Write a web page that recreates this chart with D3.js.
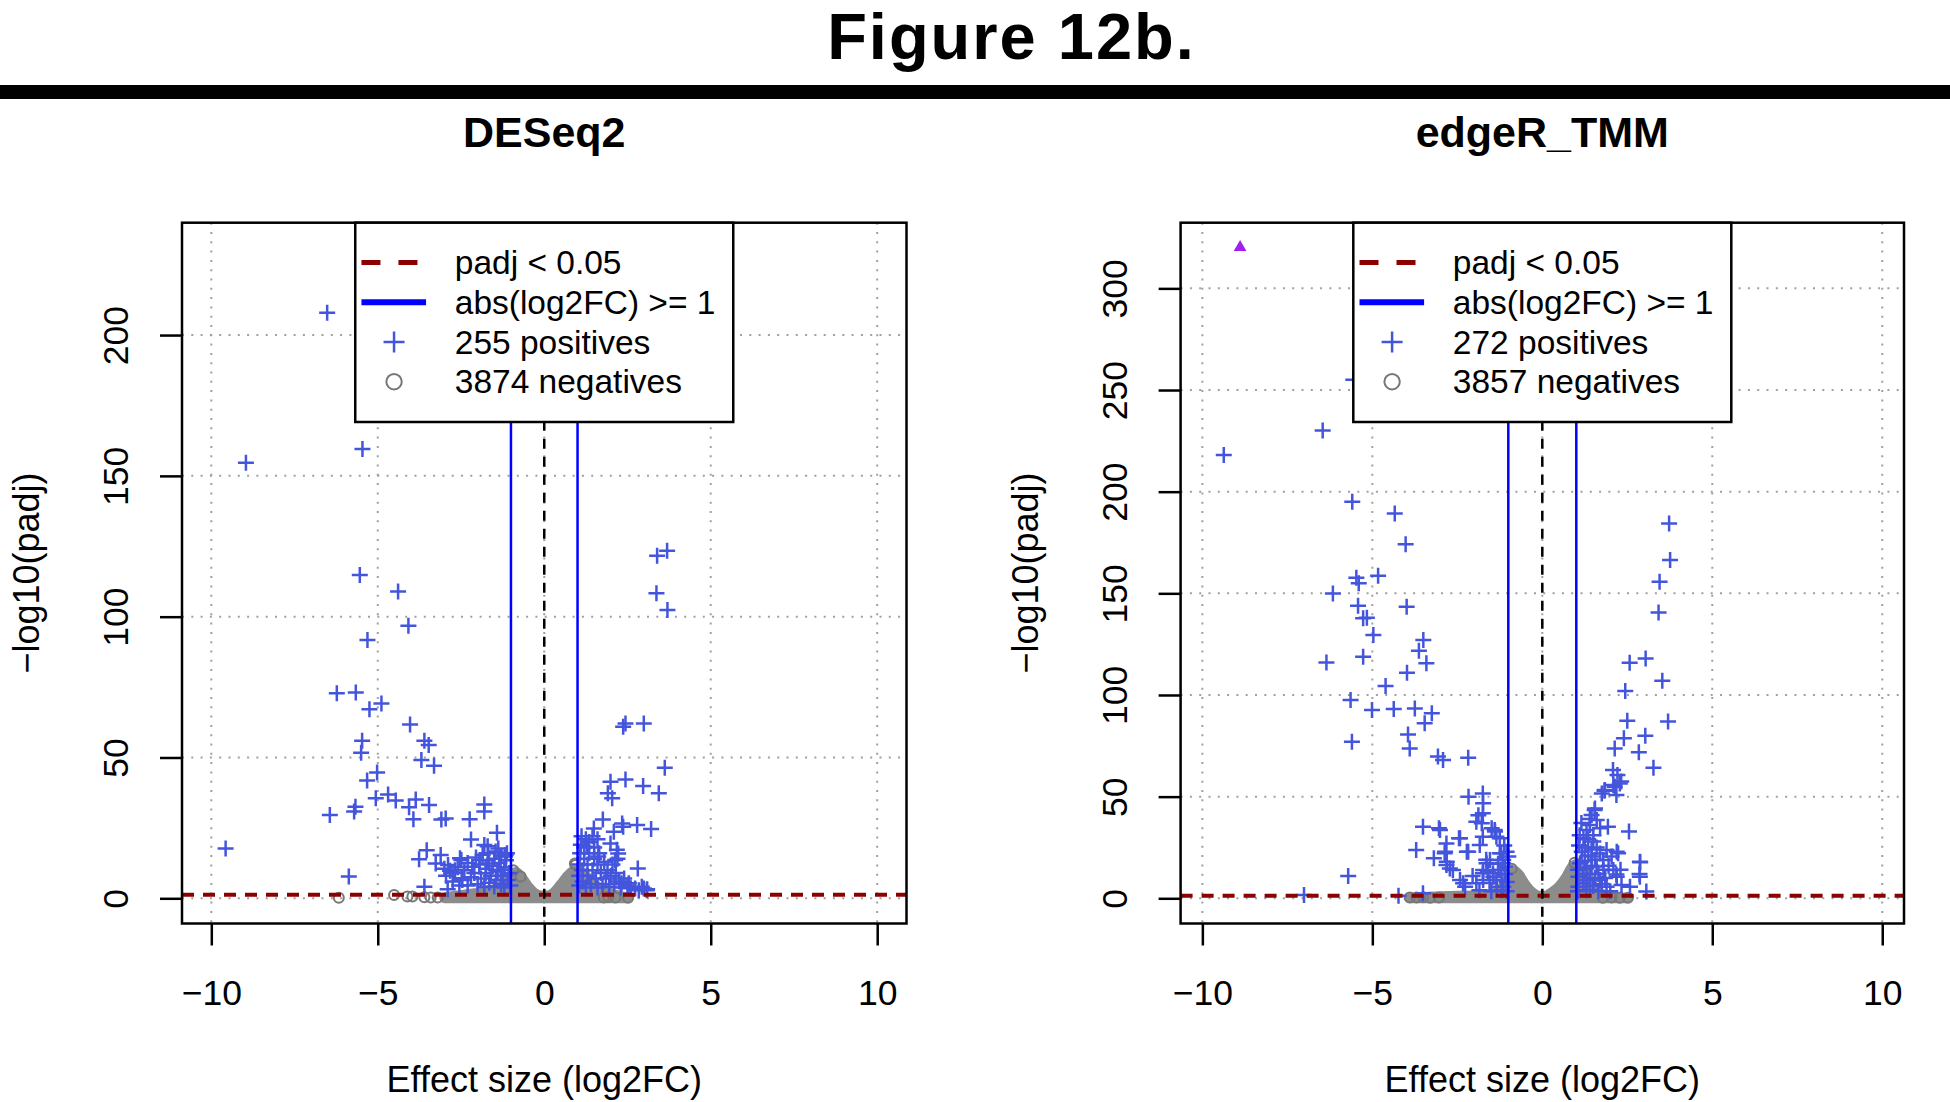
<!DOCTYPE html>
<html>
<head>
<meta charset="utf-8">
<script src="https://cdn.jsdelivr.net/npm/d3@7"></script>
<style>
  body { margin: 0; background: #fff; }
  svg { display: block; }
</style>
</head>
<body>
<svg id="chart" width="1950" height="1102"></svg>
<script>
// ---------------- DATA ----------------
const figureTitle = "Figure 12b.";
const panelTitles = ["DESeq2", "edgeR_TMM"];
const xAxisLabel = "Effect size (log2FC)";
const yAxisLabel = "\u2212log10(padj)";
const xTicks = [-10, -5, 0, 5, 10];
const yTicksDESeq2 = [0, 50, 100, 150, 200];
const yTicksEdgeR = [0, 50, 100, 150, 200, 250, 300];
const padjCutoff = 0.05;
const log2fcCutoff = 1;
const legendDESeq2 = ["padj < 0.05", "abs(log2FC) >= 1", "255 positives", "3874 negatives"];
const legendEdgeR = ["padj < 0.05", "abs(log2FC) >= 1", "272 positives", "3857 negatives"];

// DESeq2: significant genes (log2FC, -log10 padj)
const deseq2Positives = [
  [-6.52,207.9],[-8.96,154.7],[-5.46,159.5],[3.39,121.6],[3.69,123.4],
  [-5.54,114.8],[-4.39,108.9],[-4.08,96.8],[-5.31,91.7],[3.37,108.3],[3.70,102.4],
  [-6.23,72.8],[-5.66,73.1],[-5.25,67.1],[-4.89,69.2],[-4.03,61.7],[-3.60,55.9],[-3.47,54.4],
  [-5.47,55.9],[-5.50,51.7],[-3.69,49.1],[-3.31,47.1],
  [2.44,62.1],[2.37,60.9],[2.99,62.1],[3.62,46.4],
  [-5.02,44.7],[-5.32,41.8],
  [2.44,42.2],[1.99,41.4],[2.97,39.9],[3.44,37.3],[1.91,37.3],[2.04,35.5],
  [-5.06,35.5],[-4.69,36.9],[-4.46,34.7],[-4.06,32.3],[-3.86,35.1],[-3.46,33.1],[-3.93,28.1],
  [-5.67,32.5],[-5.71,30.8],[-6.44,29.6],[-3.09,28.0],[-2.96,28.3],[-2.24,28.1],[-1.80,33.3],[-1.80,30.8],
  [1.76,28.0],[2.34,26.6],[2.37,25.4],[2.79,26.0],[3.21,24.6],[1.49,24.8],[2.09,23.6],
  [-9.57,17.7],[-1.42,23.3],[-2.20,20.9],[-1.80,18.9],[1.99,19.5],[2.22,15.9],
  [-3.53,17.1],[-3.76,13.9],[-3.11,15.4],[-3.26,12.4],[-2.89,11.8],[-2.83,9.8],[-2.49,13.6],
  [-2.16,11.2],[-1.94,13.6],[-1.66,12.4],[-1.46,16.6],[-1.16,15.4],[-1.31,10.1],[-2.46,6.5],
  [-1.76,8.9],[-5.87,7.7],[-3.60,4.1],
  [2.81,10.6],[2.54,5.3],[2.99,3.5],[2.84,2.9],[3.09,3.2],
  [-2.53,14.2],[-1.68,16.0],[-1.38,17.7],[-1.18,14.8],[-2.48,7.1],[-2.68,10.0],
  [1.28,18.3],[1.62,14.8],[2.18,17.2],[2.13,13.6],[2.32,5.3],[2.53,4.1],[2.73,3.5],[2.93,4.1],[3.08,2.9],
  [-3.0,10.5],[-2.95,8.0],[-2.7,9.0],[-2.6,11.0],[-2.4,10.0],[-2.3,12.5],[-2.75,6.0],[-2.55,4.5],[-2.9,3.2],
  [-2.05,14.5],[-1.95,12.0],[-1.85,15.5],[-1.75,10.5],[-1.7,13.5],[-1.6,8.0],[-1.55,11.5],[-1.5,14.0],
  [-1.45,6.5],[-1.4,9.5],[-1.35,12.5],[-1.3,5.0],[-1.25,8.0],[-1.2,11.0],[-1.15,13.5],[-1.1,6.5],
  [-1.05,9.0],[-1.02,4.5],[-1.9,7.0],[-2.0,5.0],[-1.8,4.0],[-1.65,5.5],[-2.1,9.0],[-1.12,16.0],
  [-1.3,15.0],[-1.5,4.2],[-1.2,3.8],[-2.2,7.5],[-2.3,4.5],[-1.7,18.5],
  [1.05,4.5],[1.05,8.0],[1.05,12.0],[1.08,16.0],[1.1,19.0],[1.15,6.0],[1.15,10.0],[1.2,14.0],[1.2,18.0],
  [1.25,3.8],[1.3,8.0],[1.3,12.0],[1.35,16.0],[1.35,20.0],[1.4,5.0],[1.45,10.0],[1.5,14.0],[1.5,18.0],
  [1.55,7.0],[1.6,3.8],[1.6,12.0],[1.65,16.0],[1.7,9.0],[1.75,5.0],[1.8,13.0],[1.85,7.0],[1.9,10.0],
  [1.95,4.0],[2.0,8.0],[2.05,12.0],[2.1,5.0],[2.15,9.0],[2.2,14.0],[2.25,6.0],[2.3,3.8],[2.4,7.0],
  [2.5,4.5],[2.6,3.6],[1.12,22.0],[1.25,21.0],[1.45,22.0],[1.6,21.0]
];
// DESeq2: non-significant genes drawn individually (outliers of the dense cloud)
const deseq2Negatives = [
  [-6.17,0.2],[-4.51,1.2],[-4.11,0.6],[-3.96,0.6],[-3.6,0.4],[-3.41,0.3],[-3.2,0.3],
  [1.79,0.3],[1.92,0.5],[2.14,0.3],[2.52,0.2],[-0.71,7.7],[0.94,11.8],[-0.93,10.0],[0.92,12.4]
];
// DESeq2: upper envelope of the dense non-significant cloud (log2FC, -log10 padj)
const deseq2Cloud = [
  [-3.0,0.3],[-2.6,1.0],[-2.2,1.6],[-1.8,2.3],[-1.5,3.3],[-1.2,5.5],[-1.0,8.3],[-0.85,9.3],
  [-0.7,7.8],[-0.5,4.5],[-0.3,2.0],[-0.1,1.0],[0.1,1.0],[0.3,2.2],[0.5,5.0],[0.7,8.0],
  [0.9,9.8],[1.1,9.6],[1.4,6.0],[1.7,3.5],[2.0,1.8],[2.3,0.8],[2.5,0.3]
];

// edgeR_TMM
const edgerPositives = [
  [-5.56,255.0],
  [-6.46,230.1],[-9.37,218.0],[-5.59,195.1],[-4.34,189.3],[-4.02,174.1],[-4.83,158.7],[-5.47,157.7],
  [-5.40,154.9],[-6.16,149.9],[-3.99,143.4],[-5.42,143.9],[-5.27,137.7],[-5.16,138.0],[-4.97,129.5],
  [-3.50,127.0],[-3.63,121.8],[-3.41,115.6],[-5.27,118.8],[-6.35,116.0],[-3.98,110.9],[-4.61,104.4],
  [-5.64,97.5],[-5.01,92.6],[-4.37,93.1],[-3.75,93.4],[-3.25,91.0],[-3.46,86.1],[-3.95,80.6],
  [-3.90,73.7],[-5.60,77.0],[-3.07,69.7],[-2.92,68.0],[-2.18,69.1],
  [3.73,184.4],[3.76,166.4],[3.45,155.7],[3.42,140.6],[3.04,118.0],[2.57,115.9],[3.53,107.0],
  [2.44,101.9],[2.50,87.3],[3.70,86.9],[3.03,80.0],[2.40,78.7],[2.13,73.7],[2.84,71.8],[3.27,64.2],
  [2.08,63.1],[2.21,60.6],[2.32,57.4],[2.13,54.9],[1.83,52.9],[2.18,50.8],[1.75,51.6],[2.55,32.8],
  [2.88,17.7],[2.86,11.9],[3.06,3.3],
  [-5.71,11.0],[-7.01,1.6],[-4.23,1.3],[-3.51,2.5],
  [-2.17,49.9],[-1.75,51.6],[-1.75,41.8],[-1.94,37.7],[-3.51,35.2],[-3.04,34.4],[-2.45,29.5],
  [-3.71,23.8],[-2.82,27.0],[-2.87,22.1],[-3.19,19.7],[-2.82,16.4],[-2.63,13.9],[-2.22,22.9],
  [-1.40,33.6],[-1.35,30.3],[-1.84,26.2],[-1.75,30.3],[-1.21,22.1],[-1.16,17.2],[-1.65,18.9],
  [-1.75,12.3],[-1.45,12.3],[-1.21,13.9],[-2.33,7.4],[-1.94,7.4],
  [-1.74,46.7],[-1.88,40.9],[-1.78,36.9],[-1.49,34.4],[-1.39,32.8],[-1.25,29.5],[-2.42,29.5],
  [-2.18,22.9],[-2.86,22.9],[-2.81,18.0],[-2.72,14.7],[-3.01,33.6],[-1.64,17.2],[-1.74,13.9],
  [-1.54,18.8],[-1.25,22.1],[-1.15,18.8],[-1.10,15.6],[-1.29,13.9],[-2.42,9.0],[-2.27,5.7],
  [-1.74,9.0],[-1.44,10.6],[-1.20,9.0],[-1.15,5.7],[-1.34,5.7],[-1.05,22.9],[-1.00,20.5],
  [-1.05,3.5],[-1.05,8.0],[-1.1,12.0],[-1.12,26.0],[-1.2,4.0],[-1.3,17.0],[-1.35,9.0],[-1.5,3.5],
  [-1.55,7.5],[-1.6,13.0],[-1.85,4.0],[-2.05,11.0],
  [1.84,53.3],[2.09,55.7],[2.28,56.5],[1.55,44.2],[1.45,41.0],[1.60,38.5],[1.40,36.0],[1.30,33.6],
  [1.70,34.4],[1.21,29.5],[1.50,27.9],[1.89,23.8],[2.19,22.9],[2.04,20.5],[1.79,18.8],[1.45,20.5],
  [1.16,22.9],[1.11,17.2],[1.30,14.7],[1.60,15.6],[2.09,13.9],[2.19,10.6],[2.87,18.0],[2.87,10.6],
  [2.33,6.5],[2.58,5.7],[1.70,9.0],[1.21,7.4],[1.40,4.1],[1.89,5.7],[1.06,10.6],[1.06,5.7],
  [1.54,43.4],[1.93,35.2],[2.23,22.1],[2.18,11.7],
  [1.05,3.5],[1.05,14.0],[1.08,26.0],[1.1,31.0],[1.15,37.0],[1.2,12.0],[1.25,18.5],[1.25,25.0],
  [1.3,4.0],[1.3,9.0],[1.35,21.0],[1.35,29.0],[1.4,12.0],[1.4,39.0],[1.45,16.0],[1.45,24.0],
  [1.5,6.0],[1.5,31.0],[1.55,10.0],[1.55,19.0],[1.6,25.0],[1.65,3.5],[1.65,12.0],[1.7,22.0],
  [1.75,7.0],[1.8,14.0],[1.85,10.0],[1.95,16.0],[2.0,3.5],[2.3,14.0]
];
const edgerCapped = [[-8.89,320.2]];
const edgerNegatives = [
  [-3.9,0.4],[-3.7,0.4],[-3.5,0.5],[-3.3,0.3],[-3.04,0.4],
  [1.78,0.3],[2.04,0.4],[2.28,0.3],[2.52,0.3],[-0.9,14.5],[0.95,17.5]
];
const edgerCloud = [
  [-3.9,0.3],[-3.5,0.6],[-3.0,1.0],[-2.5,1.2],[-2.0,1.5],[-1.5,2.2],[-1.2,5.0],[-1.0,11.5],
  [-0.85,13.8],[-0.7,12.0],[-0.5,6.8],[-0.3,3.0],[-0.1,1.2],[0.1,1.3],[0.3,3.2],[0.5,6.0],
  [0.7,10.5],[0.9,16.0],[1.05,17.0],[1.3,12.0],[1.5,6.0],[1.7,2.5],[2.0,1.2],[2.5,0.3]
];

// ---------------- LAYOUT / STYLE ----------------
const FONT = '"Liberation Sans", Arial, Helvetica, sans-serif';
const W = 1950, H = 1102;
const plotTop = 222.7, plotBottom = 923.5;
const posColor = "#4455DD", cloudColor = "#8c8c8c";

const panels = [
  { title: panelTitles[0], pos: deseq2Positives, neg: deseq2Negatives, cloud: deseq2Cloud, capped: [],
    yTicks: yTicksDESeq2, legend: legendDESeq2, range: [182, 906.5], xDom: [-10.88, 10.88], yDom: [-8.95, 239.9] },
  { title: panelTitles[1], pos: edgerPositives, neg: edgerNegatives, cloud: edgerCloud, capped: edgerCapped,
    yTicks: yTicksEdgeR, legend: legendEdgeR, range: [1180.6, 1904], xDom: [-10.64, 10.64], yDom: [-12.4, 332.3] }
];

const svg = d3.select("#chart");
svg.append("rect").attr("width", W).attr("height", H).attr("fill", "#fff");

svg.append("text").attr("x", 1011.5).attr("y", 59).attr("text-anchor", "middle")
  .attr("font-family", FONT).attr("font-weight", "bold").attr("font-size", 65)
  .attr("letter-spacing", 2).text(figureTitle);
svg.append("rect").attr("x", 0).attr("y", 85).attr("width", W).attr("height", 14).attr("fill", "#000");

function drawPanel(p) {
  const g = svg.append("g");
  const x = d3.scaleLinear().domain(p.xDom).range(p.range);
  const y = d3.scaleLinear().domain(p.yDom).range([plotBottom, plotTop]);
  const x0 = p.range[0], x1 = p.range[1], xc = (x0 + x1) / 2;

  // grid
  g.selectAll("line.gx").data(xTicks).join("line").attr("class", "gx")
    .attr("x1", d => x(d)).attr("x2", d => x(d)).attr("y1", plotTop).attr("y2", plotBottom)
    .attr("stroke", "#a0a0a0").attr("stroke-width", 2).attr("stroke-dasharray", "2 7.3");
  g.selectAll("line.gy").data(p.yTicks).join("line").attr("class", "gy")
    .attr("y1", d => y(d)).attr("y2", d => y(d)).attr("x1", x0).attr("x2", x1)
    .attr("stroke", "#a0a0a0").attr("stroke-width", 2).attr("stroke-dasharray", "2 7.3");

  // dense cloud of non-significant genes
  const area = d3.area().x(d => x(d[0])).y0(y(0)).y1(d => y(d[1])).curve(d3.curveMonotoneX);
  g.append("path").datum(p.cloud).attr("d", area)
    .attr("fill", cloudColor).attr("stroke", cloudColor).attr("stroke-width", 10).attr("stroke-linejoin", "round");

  // negatives
  g.selectAll("circle.neg").data(p.neg).join("circle").attr("class", "neg")
    .attr("cx", d => x(d[0])).attr("cy", d => y(d[1])).attr("r", 5)
    .attr("fill", "none").attr("stroke", "#777").attr("stroke-width", 2);

  // positives
  g.selectAll("path.pos").data(p.pos).join("path").attr("class", "pos")
    .attr("transform", d => `translate(${x(d[0])},${y(d[1])})`)
    .attr("d", "M-8,0H8M0,-8V8").attr("stroke", posColor).attr("stroke-width", 2.5).attr("fill", "none");

  // capped
  g.selectAll("path.cap").data(p.capped).join("path").attr("class", "cap")
    .attr("transform", d => `translate(${x(d[0])},${y(d[1])})`)
    .attr("d", d3.symbol(d3.symbolTriangle, 70)()).attr("fill", "#A020F0");

  // threshold lines
  g.append("line").attr("x1", x0).attr("x2", x1)
    .attr("y1", y(-Math.log10(padjCutoff))).attr("y2", y(-Math.log10(padjCutoff)))
    .attr("stroke", "#8B0000").attr("stroke-width", 4).attr("stroke-dasharray", "12 9");
  g.selectAll("line.fc").data([-log2fcCutoff, log2fcCutoff]).join("line").attr("class", "fc")
    .attr("x1", d => x(d)).attr("x2", d => x(d)).attr("y1", plotTop).attr("y2", plotBottom)
    .attr("stroke", "#0000FF").attr("stroke-width", 2.5);
  g.append("line").attr("x1", x(0)).attr("x2", x(0)).attr("y1", plotTop).attr("y2", plotBottom)
    .attr("stroke", "#000").attr("stroke-width", 2.5).attr("stroke-dasharray", "10 8");

  // box
  g.append("rect").attr("x", x0).attr("y", plotTop).attr("width", x1 - x0).attr("height", plotBottom - plotTop)
    .attr("fill", "none").attr("stroke", "#000").attr("stroke-width", 2.5);

  // x axis
  const xa = g.append("g").attr("transform", `translate(0,${plotBottom})`)
    .call(d3.axisBottom(x).tickValues(xTicks).tickSize(22).tickFormat(d3.format("d")));
  xa.attr("font-family", FONT).attr("font-size", 35.5);
  xa.select(".domain").remove();
  xa.selectAll(".tick line").attr("stroke", "#000").attr("stroke-width", 2.5);
  xa.selectAll(".tick text").attr("y", 81.5).attr("dy", null).attr("fill", "#000");

  // y axis
  const ya = g.append("g").attr("transform", `translate(${x0},0)`)
    .call(d3.axisLeft(y).tickValues(p.yTicks).tickSize(22).tickFormat(d3.format("d")));
  ya.attr("font-family", FONT).attr("font-size", 35.5);
  ya.select(".domain").remove();
  ya.selectAll(".tick line").attr("stroke", "#000").attr("stroke-width", 2.5);
  ya.selectAll(".tick text").attr("x", 0).attr("y", -53.7).attr("dy", null)
    .attr("transform", "rotate(-90)").attr("text-anchor", "middle").attr("fill", "#000");

  // labels
  g.append("text").attr("x", xc).attr("y", 1091.7).attr("text-anchor", "middle")
    .attr("font-family", FONT).attr("font-size", 36).text(xAxisLabel);
  g.append("text").attr("transform", `translate(${x0 - 142.7},573) rotate(-90)`).attr("text-anchor", "middle")
    .attr("font-family", FONT).attr("font-size", 36).text(yAxisLabel);
  g.append("text").attr("x", xc).attr("y", 147).attr("text-anchor", "middle")
    .attr("font-family", FONT).attr("font-weight", "bold").attr("font-size", 43).text(p.title);

  // legend
  const lx = xc - 189, lw = 378, lh = 199.3;
  const lg = g.append("g");
  lg.append("rect").attr("x", lx).attr("y", plotTop).attr("width", lw).attr("height", lh)
    .attr("fill", "#fff").attr("stroke", "#000").attr("stroke-width", 2.5);
  const base = i => plotTop + 51.5 + 39.7 * i;
  const sy = i => base(i) - 11.6;
  lg.append("line").attr("x1", lx + 6.2).attr("x2", lx + 70.8).attr("y1", sy(0)).attr("y2", sy(0))
    .attr("stroke", "#8B0000").attr("stroke-width", 5).attr("stroke-dasharray", "19 18");
  lg.append("line").attr("x1", lx + 6.2).attr("x2", lx + 70.8).attr("y1", sy(1)).attr("y2", sy(1))
    .attr("stroke", "#0000FF").attr("stroke-width", 6);
  lg.append("path").attr("transform", `translate(${lx + 38.8},${sy(2)})`)
    .attr("d", "M-10.5,0H10.5M0,-10.5V10.5").attr("stroke", posColor).attr("stroke-width", 2.5);
  lg.append("circle").attr("cx", lx + 38.8).attr("cy", sy(3)).attr("r", 7.7)
    .attr("fill", "none").attr("stroke", "#777").attr("stroke-width", 2);
  lg.selectAll("text").data(p.legend).join("text")
    .attr("x", lx + 99.5).attr("y", (d, i) => base(i))
    .attr("font-family", FONT).attr("font-size", 33.5).attr("fill", "#000").text(d => d);
}

panels.forEach(drawPanel);
</script>
</body>
</html>
